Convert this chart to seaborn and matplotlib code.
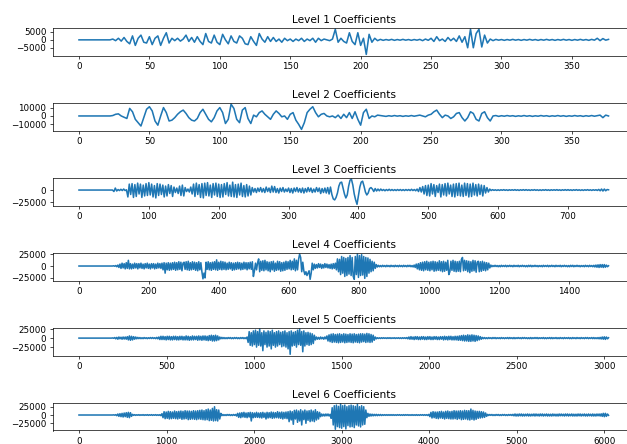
import matplotlib
matplotlib.use("Agg")
import matplotlib.pyplot as plt
import numpy as np
import seaborn as sns

# wavelet coefficients, in thousands, one value per `step` samples
level1_k = [
    0, 0, 0, 0, 0, 0, 0, 0, 0, 0,
    0, 0, 0.5, -0.5, 1, -0.8, 1.5, -1, -2.5, 2.5,
    -3.5, 1, 3, -1.5, -2, 2, -3, 1, 2.5, -3.5,
    1, 4.5, -2, 1, -0.5, 1, -0.8, 0.5, 3, -1,
    1.5, -1.5, 2, -1, -3, 4, -1, -2, 3, -1.5,
    -3, 3.5, 0, -2.5, 2.5, -1, -2, 2.5, 1, -2.5,
    -3, 2, -1, -3.5, 4, 0.5, -1.5, 2, -1, 1.5,
    -1, 0.5, -1.5, 1, -0.5, 0.5, -1, 0.5, -0.5, 1,
    -1, 0.5, -0.5, 1, -1.5, 1, -0.5, 0.5, 0, -0.5,
    0.5, 6.7, -1.5, 1, -1, -2, 4.5, -1, -3, 4.5,
    -3.5, 1, -9.2, 3.5, -1.5, 1, -0.5, 0.3, -0.3, 0.2,
    -0.2, 0.3, -0.3, 0.2, -0.2, 0.3, -0.2, 0.2, -0.3, 0.2,
    -0.2, 0.3, -0.5, 0.5, -0.3, 1, -1, 2, -0.5, 0.5,
    -1, 1.5, -0.5, 1, -1, 2.5, -1.5, 2, -5, 6.7,
    -5, 4, 6.7, -4.5, 3, -2, 0.5, -0.5, 0.3, -0.2,
    0.2, -0.3, 0.2, -0.2, 0.3, -0.2, 0.2, -0.3, 0.2, -0.2,
    0.3, -0.2, 0.2, -0.3, 0.2, -0.2, 0.3, -0.2, 0.2, -0.3,
    0.2, -0.2, 0.3, -0.2, 0.2, -0.3, 0.2, -0.2, 0.3, -0.2,
    0.2, -0.3, 0.3, -0.2, 1, -0.5, 0.8, -0.2, 0.3,
]
level2_k = [
    0, 0, 0, 0, 0, 0, 0, 0, 0, 0,
    0, 0, 0.5, 2, 2.5, 0, -1.5, -3, 9, 5,
    -4, -8, -12, -2, 8, 11, 6, -6, -11, 0,
    10, 4, -6, -5, -2, 2, 5, 7, 3, -2,
    -5, -6, -3, 4, 8, 2, -4, -7, -2, 6,
    10, 4, -9, -4, 14, 9, -4, -8, 7, 10,
    -3, -9, 1, -1, 4, 6, 2, -1, -4, 2,
    6, 3, -1, 0, -4, 2, 4, -5, -10, -16,
    -8, 4, 8, 11, 4, -1, 2, 3, 0, -1,
    0, -2, 1, -3, 2, -2, 4, -3, 5, -4,
    -11, 4, 8, -3, 0, -1, 1, 0.5, 0, -0.5,
    0.3, -0.3, 0.5, -0.2, 0.3, -0.5, 0.2, -0.3, 0.5, -0.3,
    0.3, 1, 0, -1, 1, 2, 5, 7, 2, -2,
    1, 0, -3, -1, 3, 4, -2, -6, -2, 5,
    3, -4, -6, 3, 5, -2, -6, 0, 0.5, -0.5,
    0.3, -0.3, 0.5, -0.2, 0.3, -0.5, 0.2, -0.3, 0.5, -0.3,
    0.3, -0.5, 0.2, -0.3, 0.5, -0.2, 0.3, -0.5, 0.2, -0.3,
    0.5, -0.3, 0.3, -0.5, 0.2, -0.3, 0.5, -0.2, 0.3, -0.5,
    0.3, -0.3, 0.5, -0.3, 0.3, 1, -2, 1, 0,
]
level3_k = [
    0, 0, 0, 0, 0, 0, 0, 0, 0, 0,
    0, 0, 0, 0, 0, 0, 0, 0, 0, 0,
    0, 0, 0, 0, 0, -3, 4, -2, 1, -1,
    1.5, -1, 2, -1, 0.5, -14, 12, -9, 13, -15,
    11, -13, 14, -8, 12, -15, 10, -12, 13, -11,
    15, -10, 12, -14, 9, -16, 13, -11, 12, -9,
    10, -14, 8, -12, 11, -7, 9, -13, 6, -5,
    4, -7, 8, -11, 10, -12, 5, -3, 2, -4,
    6, -8, 12, -13, 14, -9, 11, -15, 13, -16,
    14, -11, 15, -12, 10, -15, 13, -10, 14, -13,
    12, -15, 11, -14, 13, -9, 15, -12, 10, -13,
    16, -14, 11, -15, 12, -10, 14, -13, 9, -14,
    11, -12, 8, -10, 5, -4, 3, -5, 4, -3,
    5, -4, 3, -5, 6, -3, 4, -5, 8, -4,
    7, -5, 3, -6, 4, -3, 5, -4, 2, -3,
    4, -5, 3, -6, 4, -3, 5, -4, 3, -5,
    4, -6, 3, -4, 5, -3, 4, -5, 2, -4,
    5, -3, 4, -7, 3, -5, 4, -6, 5, -8,
    6, -9, -18, -20, -15, -6, 8, 15, 16, 4,
    -8, -16, -10, 8, 20, 22, 10, -8, -20, -29,
    -12, 6, 16, 18, 8, -4, -10, -6, 3, 5,
    2, -3, 3, -2, 2, -1.5, 2, -1, 1, -1.5,
    1, -1, 1.5, -1, 1, -1, 0.8, -1, 1, -0.8,
    1, -1, 0.8, -1, 1, -0.8, 1, -1, 1.5, -1,
    1, -1.5, 2, -3, 5, -4, 7, -8, 9, -11,
    10, -12, 13, -8, 11, -13, 9, -5, 12, -14,
    11, -10, 13, -12, 14, -8, 10, -13, 12, -14,
    13, -11, 14, -12, 10, -13, 14, -11, 13, -14,
    12, -13, 14, -10, 11, -12, 12, -9, 10, -12,
    9, -6, 5, -4, 2, -1, 0.8, -0.6, 0.5, -0.8,
    0.5, -0.8, 0.6, -0.5, 0.8, -0.6, 0.5, -0.8, 0.6, -0.5,
    0.6, -0.5, 0.8, -0.6, 0.5, -0.8, 0.6, -0.5, 0.8, -0.6,
    0.8, -0.6, 0.5, -0.8, 0.6, -0.5, 0.8, -0.6, 0.5, -0.8,
    0.5, -0.8, 0.6, -0.5, 0.8, -0.6, 0.5, -0.8, 0.6, -0.5,
    0.6, -0.5, 0.8, -0.6, 0.5, -0.8, 0.6, -0.5, 0.8, -0.6,
    0.8, -0.6, 0.5, -0.8, 0.6, -0.5, 0.8, -0.6, 0.5, -0.8,
    0.5, -0.8, 0.6, -0.5, 0.8, -0.6, 0.5, -0.8, 0.6, -0.5,
    0.6, -0.8, 1.2, -1.5, 2, -2, 2, -1.5, 1, 0.5,
]
level4_k = [
    0, 0, 0, 0, 0, 0, 0, 0, 0, 0,
    0, 0, 0, 0, 0, 0, 0, 0, 0, 0,
    0, 0, 0, 0, 0, 0, 0, 0, 0, 0,
    0, 0, 0, 0.5, -0.5, 1, -1.5, 2, -3, 4,
    -5, 6, -4, 5, -6, 7, -5, 12, -6, 5,
    -6, 4, -5, 6, -4, 5, -6, 5, -4, 6,
    -5, 4, -6, 5, -4, 6, -5, 4, -6, 5,
    -4, 5, -6, 4, -5, 6, -4, 5, -5, 6,
    -8, 7, -15, 6, -8, 7, -9, 6, -8, 7,
    -7, 8, -9, 7, -8, 9, -7, 8, -10, 6,
    8, -7, 9, -8, 10, -9, 7, -8, 9, -7,
    8, -9, 7, -10, 9, -8, 7, -12, -27, -15,
    -25, 8, -7, 9, -8, 7, -9, 8, -7, 9,
    -8, 13, -9, 8, -7, 10, -8, 9, -7, 8,
    -8, 6, -7, 8, -6, 7, -9, 6, -8, 7,
    -7, 8, -6, 7, -8, 6, -7, 8, -6, 7,
    -8, 7, -6, 8, -7, 9, -22, -10, 6, -8,
    7, 15, -12, 10, -9, 11, -10, 12, -8, 9,
    -10, 8, -12, 9, -8, 10, -11, 6, -9, 10,
    -8, 9, -11, 7, -10, 8, -9, 10, -7, 9,
    -6, 12, -8, 10, -7, 15, -10, 12, -8, 14,
    25, 18, -12, 8, -10, -18, -12, -20, -15, -10,
    -28, -15, 6, -8, 4, -5, 3, -4, 5, -3,
    4, -5, 3, -4, 5, -3, 4, -4, 3, -5,
    4, -6, 5, -5, 6, -8, 15, -12, 14, -18,
    20, -15, 18, -22, 16, -20, 18, -17, 22, -20,
    18, -22, -28, 20, -18, 25, -24, 22, -20, 24,
    -19, 20, -26, 18, -22, 17, -15, 14, -12, 10,
    -10, 8, -5, 3, -2, 1.5, -1.5, 1, -1.5, 1.5,
    -1, 1, -1.5, 1.5, -1, 1, -1.5, 1.5, -1, 1,
    -1.5, 1.5, -1, 1, -1.5, 1.5, -1, 1, -1.5, 1.5,
    -1, 1, -1.5, 1.5, -1, 1.5, -1.5, 1, -2, 2,
    -3, 4, -6, 5, -8, 7, -9, 8, -10, 9,
    -8, 10, -9, 8, -10, 9, -8, 10, -11, 9,
    -10, 8, -9, 11, -10, 9, -12, 10, -11, 8,
    -9, 12, -18, -12, 10, -9, 12, -11, 10, -12,
    9, -11, 10, -12, 14, 18, -10, 12, -9, 11,
    -12, 10, -14, 9, -11, 12, -10, 11, -13, 8,
    10, -12, 9, -11, 10, -9, 8, -10, 7, -8,
    6, -4, 2, -1.5, 1, -1, 1.5, -1, 1, -1.5,
    1, -1.5, 1.5, -1, 1, -1, 1.5, -1.5, 1, -1,
    1.5, -1, 1, -1.5, 1.5, -1, 1, -1, 1.5, -1.5,
    1, -1, 1.5, -1, 1, -1.5, 1, -1.5, 1.5, -1,
    1.5, -1.5, 1, -1, 1.5, -1, 1, -1.5, 1, -1,
    1, -1.5, 1.5, -1, 1, -1, 1.5, -1.5, 1, -1,
    1.5, -1, 1, -1.5, 1.5, -1, 1, -1, 1.5, -1.5,
    1, -1, 1.5, -1, 1, -1.5, 1, -1.5, 1.5, -1,
    1.5, -1.5, 1, -1, 1.5, -1, 1, -1.5, 1, -1,
    1, -1.5, 1.5, -1, 1, -1.5, 1.5, -1, 1, -1.5,
    1.5, -2, 2, -2.5, 2.5, -3, 3, -2.5, 3, -3,
    3, -2.5, 2, -1.5, 0.5,
]
level5_k = [
    0, 0, 0, 0, 0, 0, 0, 0, 0, 0,
    0, 0, 0, 0, 0, 0, 0, 0, 0, 0,
    0, 0, 0, 0, 0, 0, 0, 0, 0, 0,
    0, 0, 0.5, -0.5, 1.5, -2, 2, -3, 3, -2,
    2.5, -3, 3, -2.5, 3, -3, 4, -5, 6, -6,
    5, -5, 4, -3, 3, -2, 2, -1.5, 1.5, -1.5,
    1, -1.5, 1.5, -1, 1, -1.5, 1, -1, 1.5, -1,
    1.5, -1, 1, -1.5, 2, -2, 3, -4, 5, -4,
    5, -4, 4, -5, 5, -4, 5, -5, 4, -5,
    5, -4, 5, -5, 4, -5, 5, -4, 5, -5,
    4, -5, 6, -5, 5, -6, 4, -5, 6, -5,
    5, -4, 5, -6, 6, -5, 5, -6, 6, -5,
    6, -6, 5, -7, 7, -6, 8, -8, 7, -8,
    8, -7, 6, -5, 3, -2, 2, -1.5, 1.5, -1.5,
    1, -1.5, 1.5, -1, 1.5, -1.5, 1, -1.5, 1.5, -1,
    1.5, -1.5, 1, -1.5, 1.5, -1, 1.5, -1.5, 1, -1.5,
    3, -12, 18, -20, 15, -22, 20, -18, 22, -25,
    18, -20, 25, -22, 15, -35, 20, -18, 16, -25,
    20, -22, 18, -30, 22, -20, 15, -25, 18, -22,
    20, -18, 16, -24, 18, -22, 20, -25, 15, -30,
    18, -45, 20, -22, 16, -20, 18, -25, 22, -18,
    25, -20, 18, -38, 20, -22, 15, -18, 16, -20,
    14, -18, 12, -15, 8, -5, 3, -3, 2, -3,
    3, -2, 2, -3, 3, -2, 6, -8, 9, -10,
    11, -12, 12, -11, 10, -12, 11, -13, 12, -12,
    10, -11, 12, -13, 11, -12, 10, -11, 12, -12,
    11, -13, 12, -11, 10, -12, 11, -13, 12, -11,
    12, -10, 11, -12, 13, -11, 12, -12, 10, -11,
    8, -6, 3, -2, 1, -1, 0.8, -1, 1, -0.8,
    1, -0.8, 0.8, -1, 1, -0.8, 1, -1, 0.8, -0.8,
    1, -1, 0.8, -0.8, 1, -1, 0.8, -1, 1, -0.8,
    1, -1, 1.5, -2, 3, -3, 4, -3, 3, -4,
    4, -3, 4, -4, 3, -4, 4, -3, 4, -4,
    3, -4, 4, -3, 4, -4, 3, -4, 4, -3,
    4, -4, 3, -4, 4, -3, 4, -5, 5, -4,
    4, -5, 5, -4, 5, -5, 4, -5, 5, -5,
    5, -6, 6, -6, 7, -7, 8, -8, 7, -8,
    9, -9, 8, -9, 9, -8, 8, -9, 7, -7,
    6, -5, 4, -3, 2, -1.5, 1.5, -1.5, 1, -1.5,
    1.5, -1, 1, -1.5, 1.5, -1, 1.5, -1.5, 1, -1,
    1, -1.5, 1.5, -1, 1, -1.5, 1, -1, 1.5, -1.5,
    1.5, -1, 1, -1.5, 1.5, -1.5, 1, -1, 1.5, -1,
    1, -1.5, 1.5, -1, 1.5, -1, 1, -1.5, 1, -1.5,
    1.5, -1.5, 1, -1, 1.5, -1, 1.5, -1.5, 1, -1,
    1, -1, 1.5, -1.5, 1, -1.5, 1, -1, 1.5, -1.5,
    1.5, -1.5, 1, -1, 1.5, -1.5, 1, -1.5, 1.5, -1,
    1, -1.5, 1.5, -1, 1, -1, 1.5, -1.5, 1, -1.5,
    1.5, -1, 1, -1.5, 1.5, -1, 1, -1.5, 1.5, -1,
    1, -1.5, 1.5, -1, 1.5, -1.5, 1, -1, 1.5, -1.5,
    1.5, -1.5, 1, -1.5, 1.5, -2, 2, -2.5, 3, -3,
    3.5, -3.5, 3, -2, 1,
]
level6_k = [
    0, 0, 0, 0, 0, 0, 0, 0, 0, 0,
    0, 0, 0, 0, 0, 0, 0, 0, 0, 0,
    0, 0, 0, 0, 0, 0, 0, 0, 0, 0,
    0, 0, 0, 0.5, -0.5, 1, -2, 3, -4, 4,
    -5, 5, -6, 6, -5, 7, -7, 8, -8, 7,
    -4, 2, -1, 1, -1, 0.8, -0.8, 1, -1, 0.8,
    -0.8, 1, -1, 0.8, -0.8, 1, -1, 0.8, -0.8, 1,
    -1, 0.8, -0.8, 1, -1, 0.8, -1, 1, -2, 4,
    -8, 10, -11, 9, -10, 11, -12, 10, -11, 9,
    -10, 12, -11, 10, -12, 11, -10, 12, -13, 11,
    -12, 13, -11, 12, -14, 12, -13, 11, -12, 13,
    -13, 12, -14, 13, -12, 14, -13, 15, -14, 13,
    -15, 16, -14, 18, -17, 15, -16, 20, -18, 25,
    -17, 16, -18, 15, -12, 5, -2, 1.5, -1.5, 1,
    -1.5, 1.5, -1, 1.5, -1.5, 1, -1.5, 1.5, -1, 1.5,
    -3, 5, -7, 6, -8, 7, -6, 8, -7, 6,
    -8, 7, -6, 8, -18, 7, -8, 6, -7, 8,
    -7, 6, -8, 7, -9, 8, -7, 6, -12, 8,
    -9, 7, -8, 9, -10, 8, -9, 7, -8, 10,
    -9, 8, -10, 9, -12, 8, -10, 9, -11, 10,
    -20, 12, -15, 10, -28, 14, -12, 15, -22, 12,
    -18, 16, -30, 12, -14, 15, -25, 12, -16, 13,
    -20, 15, -18, 12, -20, 16, -15, 10, -12, 8,
    -5, 3, -3, 2.5, -3, 3, -2.5, 3, -3, 2,
    -10, 22, -30, 28, -43, 30, -35, 26, -38, 33,
    -40, 28, -35, 30, -42, 25, -32, 28, -36, 30,
    -35, 28, -38, 26, -30, 32, -33, 25, -36, 28,
    -30, 25, -28, 15, -8, 5, -4, 3, -3, 2.5,
    -2.5, 2, -2, 2, -2, 1.5, -1.5, 1.5, -1.5, 1,
    -1, 1, -1, 1, -1, 1, -1, 1, -1, 1,
    -1, 0.8, -1, 1, -0.8, 1, -1, 0.8, -1, 1,
    -1, 1, -0.8, 1, -1, 0.8, -1, 1, -1, 0.8,
    -1, 1, -1, 0.8, -1, 1, -0.8, 1, -1, 1,
    -1, 1, -1.5, 2, -5, 8, -9, 10, -8, 9,
    -10, 9, -11, 10, -9, 11, -10, 9, -12, 11,
    -10, 12, -11, 10, -12, 11, -12, 13, -11, 12,
    -13, 12, -11, 13, -14, 12, -13, 14, -12, 13,
    -14, 13, -15, 18, -13, 14, -15, 12, -13, 11,
    -10, 11, -9, 10, -8, 9, -7, 6, -4, 2,
    -1.5, 1.5, -1, 1.5, -1.5, 1, -1.5, 1.5, -1, 1.5,
    -1.5, 1, -1.5, 1.5, -1, 1.5, -1.5, 1, -1.5, 1.5,
    -1, 1.5, -1.5, 2, -2.5, 3, -3, 2.5, -3, 3,
    -2.5, 3, -3, 2.5, -3, 2.5, -2.5, 3, -3, 2.5,
    -3, 2.5, -2.5, 3, -3, 3, -2.5, 2.5, -3, 3,
    -2.5, 3, -3, 2.5, -2.5, 3, -3, 2.5, -3, 2.5,
    -3, 3, -2.5, 2.5, -3, 2.5, -3, 3, -2.5, 3,
    -2.5, 2.5, -3, 3, -2.5, 3, -3, 2.5, -2.5, 3,
    -3, 2.5, -3, 2.5, -3, 3, -2.5, 3, -3, 2.5,
    -2.5, 3, -3, 2.5, -3, 3, -2.5, 2.5, -3, 3,
    -3, 2.5, -3, 3, -2.5, 3, -3, 3.5, -4, 5,
    -5, 5, -4, 3, -1,
]

levels = [level1_k, level2_k, level3_k, level4_k, level5_k, level6_k]
sample_steps = [2, 2, 2, 3, 6, 12]
titles = [f"Level {i} Coefficients" for i in range(1, 7)]
y_ticks = [
    [-5000, 0, 5000],
    [-10000, 0, 10000],
    [-25000, 0],
    [-25000, 0, 25000],
    [-25000, 0, 25000],
    [-25000, 0, 25000],
]
x_ticks = [
    [0, 50, 100, 150, 200, 250, 300, 350],
    [0, 50, 100, 150, 200, 250, 300, 350],
    [0, 100, 200, 300, 400, 500, 600, 700],
    [0, 200, 400, 600, 800, 1000, 1200, 1400],
    [0, 500, 1000, 1500, 2000, 2500, 3000],
    [0, 1000, 2000, 3000, 4000, 5000, 6000],
]

# original looks like a 10x7 inch figure shrunk down, so render at a low dpi
DPI = 62.7
fig, axes = plt.subplots(6, 1, figsize=(627 / DPI, 444 / DPI), dpi=DPI)
fig.subplots_adjust(left=52.5 / 627, right=635.0 / 627,
                    top=1 - 28.0 / 444, bottom=1 - 430.5 / 444,
                    hspace=47.0 / 27.5)

for ax, vals, step, title, yt, xt in zip(axes, levels, sample_steps, titles, y_ticks, x_ticks):
    y = np.array(vals) * 1000
    x = np.arange(len(y)) * step
    sns.lineplot(x=x, y=y, ax=ax, color="#1f77b4", linewidth=1.8,
                 estimator=None, sort=False)
    ax.set_title(title)
    ax.set_yticks(yt)
    ax.set_xticks(xt)
    ax.set_xlabel("")
    ax.set_ylabel("")

fig.savefig("out.png", dpi=DPI)
